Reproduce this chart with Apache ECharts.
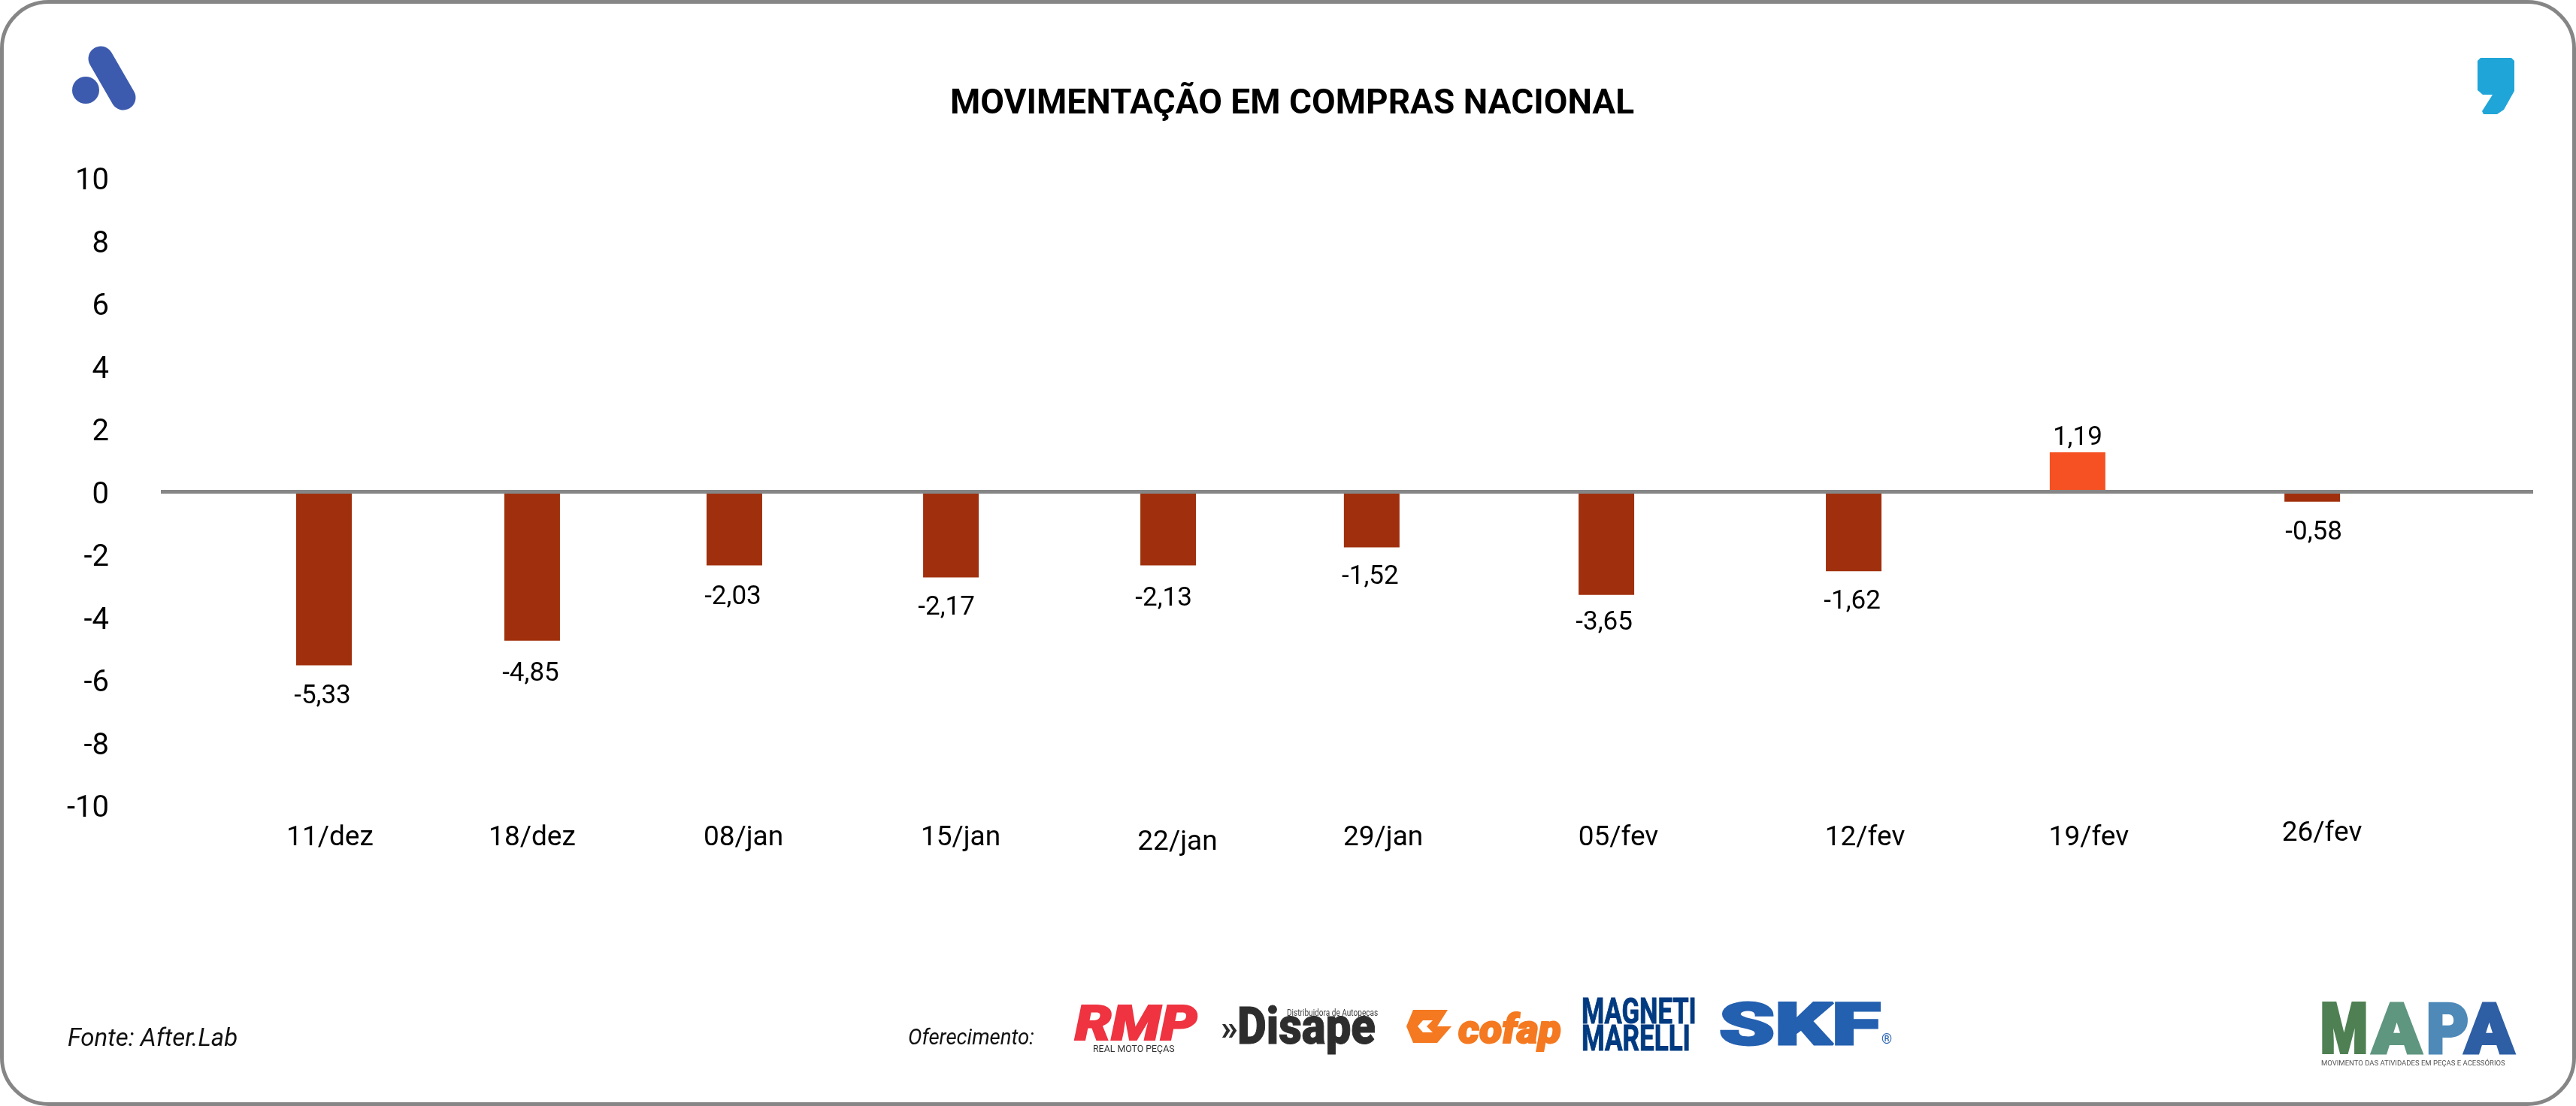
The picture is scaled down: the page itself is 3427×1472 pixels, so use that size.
<!DOCTYPE html>
<html><head><meta charset="utf-8">
<style>html,body{margin:0;padding:0;background:#fff}#c{width:3427px;height:1472px}</style>
<script src="https://cdn.jsdelivr.net/npm/echarts@6/dist/echarts.min.js"></script>
</head><body><div id="c"></div>
<script>
// ---- data ----
const chartTitle = 'MOVIMENTAÇÃO EM COMPRAS NACIONAL';
const categories = ['11/dez','18/dez','08/jan','15/jan','22/jan','29/jan','05/fev','12/fev','19/fev','26/fev'];
// bar lengths as measured against the axis
const barValues = [-5.53,-4.75,-2.35,-2.73,-2.35,-1.77,-3.29,-2.53,1.26,-0.32];
// the labels printed on the bars
const printedLabels = ['-5,33','-4,85','-2,03','-2,17','-2,13','-1,52','-3,65','-1,62','1,19','-0,58'];
// unevenly spaced places of bars and date labels along the horizontal axis (in mean bar steps)
const barSlots = [0,0.942,1.857,2.837,3.820,4.741,5.803,6.922,7.935,8.997];
const labelSlots = [0.027,0.942,1.898,2.881,3.862,4.793,5.857,6.973,7.986,9.041];

// ---- styling ----
const LEFT=214, RIGHT=3370, TOP=237, BOTTOM=1072;
const STEP=294, ORIGIN=431;
const roboto='Roboto,sans-serif';
const lowLabel='22/jan', highLabel='26/fev';
const labelNudge=[[-2,0],[-2,3],[-2,1],[-6,-1],[-6,3],[-2,-2],[-3,-4],[-2,0],[0,2],[2,0]];

const chart=echarts.init(document.getElementById('c'),null,{renderer:'canvas'});

function t(x,y,text,font,size,weight,fill,extra){
  return Object.assign({type:'text',x:x,y:y,silent:true,z:5,
    style:Object.assign({text:text,fontFamily:font,fontSize:size,fontWeight:weight,fill:fill,align:'left',verticalAlign:'middle'},extra&&extra.style||{})},
    extra&&extra.el||{});
}
function poly(points,fill){return {type:'polygon',silent:true,z:5,shape:{points:points},style:{fill:fill}};}
function heavy(c,w){return {stroke:c,lineWidth:w};}
const graphics=[
 {type:'rect',silent:true,z:-1,shape:{x:2.5,y:2.5,width:3422,height:1467,r:62},style:{fill:'#fff',stroke:'#868686',lineWidth:5}},
 // top-left logo
 {type:'circle',silent:true,z:5,shape:{cx:114,cy:120,r:18},style:{fill:'#3D5BAE'}},
 {type:'line',silent:true,z:5,shape:{x1:134,y1:78,x2:164,y2:130},style:{stroke:'#3D5BAE',lineWidth:33,lineCap:'round'}},
 // top-right logo
 poly([[3300,77],[3341,77],[3345,81],[3345,121],[3331,146],[3322,152],[3304,152],[3302,148],[3316,126],[3303,126],[3296,120],[3296,81]],'#1FA5D8'),
 t(90,1384,'Fonte: After.Lab',roboto,33,400,'#111',{style:{fontStyle:'italic'}}),
 t(1208,1382,'Oferecimento:',roboto,30,400,'#111',{style:{fontStyle:'italic'},el:{scaleX:0.92}}),
 // sponsors
 t(1430,1368,'RMP',roboto,64,900,'#EF3340',{style:Object.assign({fontStyle:'italic'},heavy('#EF3340',2)),el:{scaleX:1.2}}),
 t(1454,1397,'REAL MOTO PEÇAS',roboto,13,400,'#333',{el:{scaleX:0.95}}),
 t(1624,1372,'»',roboto,46,700,'#2D2D2D'),
 t(1646,1372,'Disape',roboto,68,900,'#2D2D2D',{el:{scaleX:0.88},style:heavy('#2D2D2D',1)}),
 t(1712,1349,'Distribuidora de Autopeças',roboto,12,400,'#444',{el:{scaleX:0.84}}),
 poly([[1880,1344],[1926,1344],[1912,1366],[1931,1366],[1912,1388],[1880,1388],[1871,1366]],'#F47920'),
 poly([[1893,1358],[1906,1358],[1898,1366],[1906,1374],[1893,1374],[1886,1366]],'#fff'),
 t(1940,1374,'cofap',roboto,54,900,'#F47920',{style:Object.assign({fontStyle:'italic'},heavy('#F47920',2)),el:{scaleX:1.03}}),
 t(2104,1350,'MAGNETI',roboto,48,700,'#003A80',{el:{scaleX:0.72},style:heavy('#003A80',1)}),
 t(2104,1386,'MARELLI',roboto,48,700,'#003A80',{el:{scaleX:0.73},style:heavy('#003A80',1)}),
 t(2287,1370,'SKF',roboto,78,900,'#2460B0',{el:{scaleX:1.52},style:heavy('#2460B0',3)}),
 t(2503,1384,'®',roboto,18,400,'#2460B0'),
 // MAPA mark
 t(3087,1378,'M',roboto,92,900,'#4F8053',{el:{scaleX:0.78},style:heavy('#4F8053',4)}),
 t(3156,1378,'A',roboto,92,900,'#5F9680',{el:{scaleX:1.04},style:heavy('#5F9680',4)}),
 t(3228,1378,'P',roboto,92,900,'#4E89B8',{el:{scaleX:0.94},style:heavy('#4E89B8',4)}),
 t(3279,1378,'A',roboto,92,900,'#2E5FA5',{el:{scaleX:1.04},style:heavy('#2E5FA5',4)}),
 t(3088,1416,'MOVIMENTO DAS ATIVIDADES EM PEÇAS E ACESSÓRIOS',roboto,9.5,400,'#555',{style:{letterSpacing:1.8}})
];

const option={
 animation:false,
 backgroundColor:'#fff',
 title:{text:chartTitle,left:1264,top:116,padding:0,
   textStyle:{fontFamily:roboto,fontSize:46,fontWeight:700,color:'#000'}},
 grid:{left:LEFT,top:TOP,width:RIGHT-LEFT,height:BOTTOM-TOP,containLabel:false},
 xAxis:{type:'value',min:(LEFT-ORIGIN)/STEP,max:(RIGHT-ORIGIN)/STEP,
   axisLine:{show:false,onZero:false},axisTick:{show:false},splitLine:{show:false},
   axisLabel:{customValues:labelSlots,margin:19,color:'#000',fontFamily:roboto,fontSize:37,
     hideOverlap:false,
     formatter:function(v){
       const i=labelSlots.indexOf(v); const s=i>=0?categories[i]:'';
       return s===lowLabel?'{low|'+s+'}':s===highLabel?'{high|'+s+'}':'{base|'+s+'}';
     },
     rich:{
       base:{fontFamily:roboto,fontSize:37,color:'#000',padding:[6,0,0,0]},
       low:{fontFamily:roboto,fontSize:37,color:'#000',padding:[12,0,0,0]},
       high:{fontFamily:roboto,fontSize:37,color:'#000',padding:[0,0,0,0]}
     }}},
 yAxis:{type:'value',min:-10,max:10,interval:2,
   axisLine:{show:false},axisTick:{show:false},splitLine:{show:false},
   axisLabel:{margin:69,color:'#000',fontFamily:roboto,fontSize:40,
     formatter:v=>'{v|'+v+'}',
     rich:{v:{fontFamily:roboto,fontSize:40,color:'#000',padding:[10,0,0,0]}}}},
 series:[{
   type:'bar',barWidth:74,clip:false,
   data:barSlots.map((x,i)=>({value:[x,barValues[i]],
     itemStyle:{color:barValues[i]<0?'#A0300D':'#F55123'},
     label:{position:barValues[i]<0?'bottom':'top',distance:barValues[i]<0?24:3,offset:labelNudge[i]}})),
   label:{show:true,color:'#000',fontFamily:roboto,fontSize:35,
     formatter:p=>printedLabels[p.dataIndex]},
   markLine:{silent:true,symbol:'none',animation:false,label:{show:false},z:4,
     lineStyle:{color:'#868686',width:5,type:'solid'},data:[{yAxis:0}]}
 }],
 graphic:{elements:graphics}
};
chart.setOption(option);
</script></body></html>
